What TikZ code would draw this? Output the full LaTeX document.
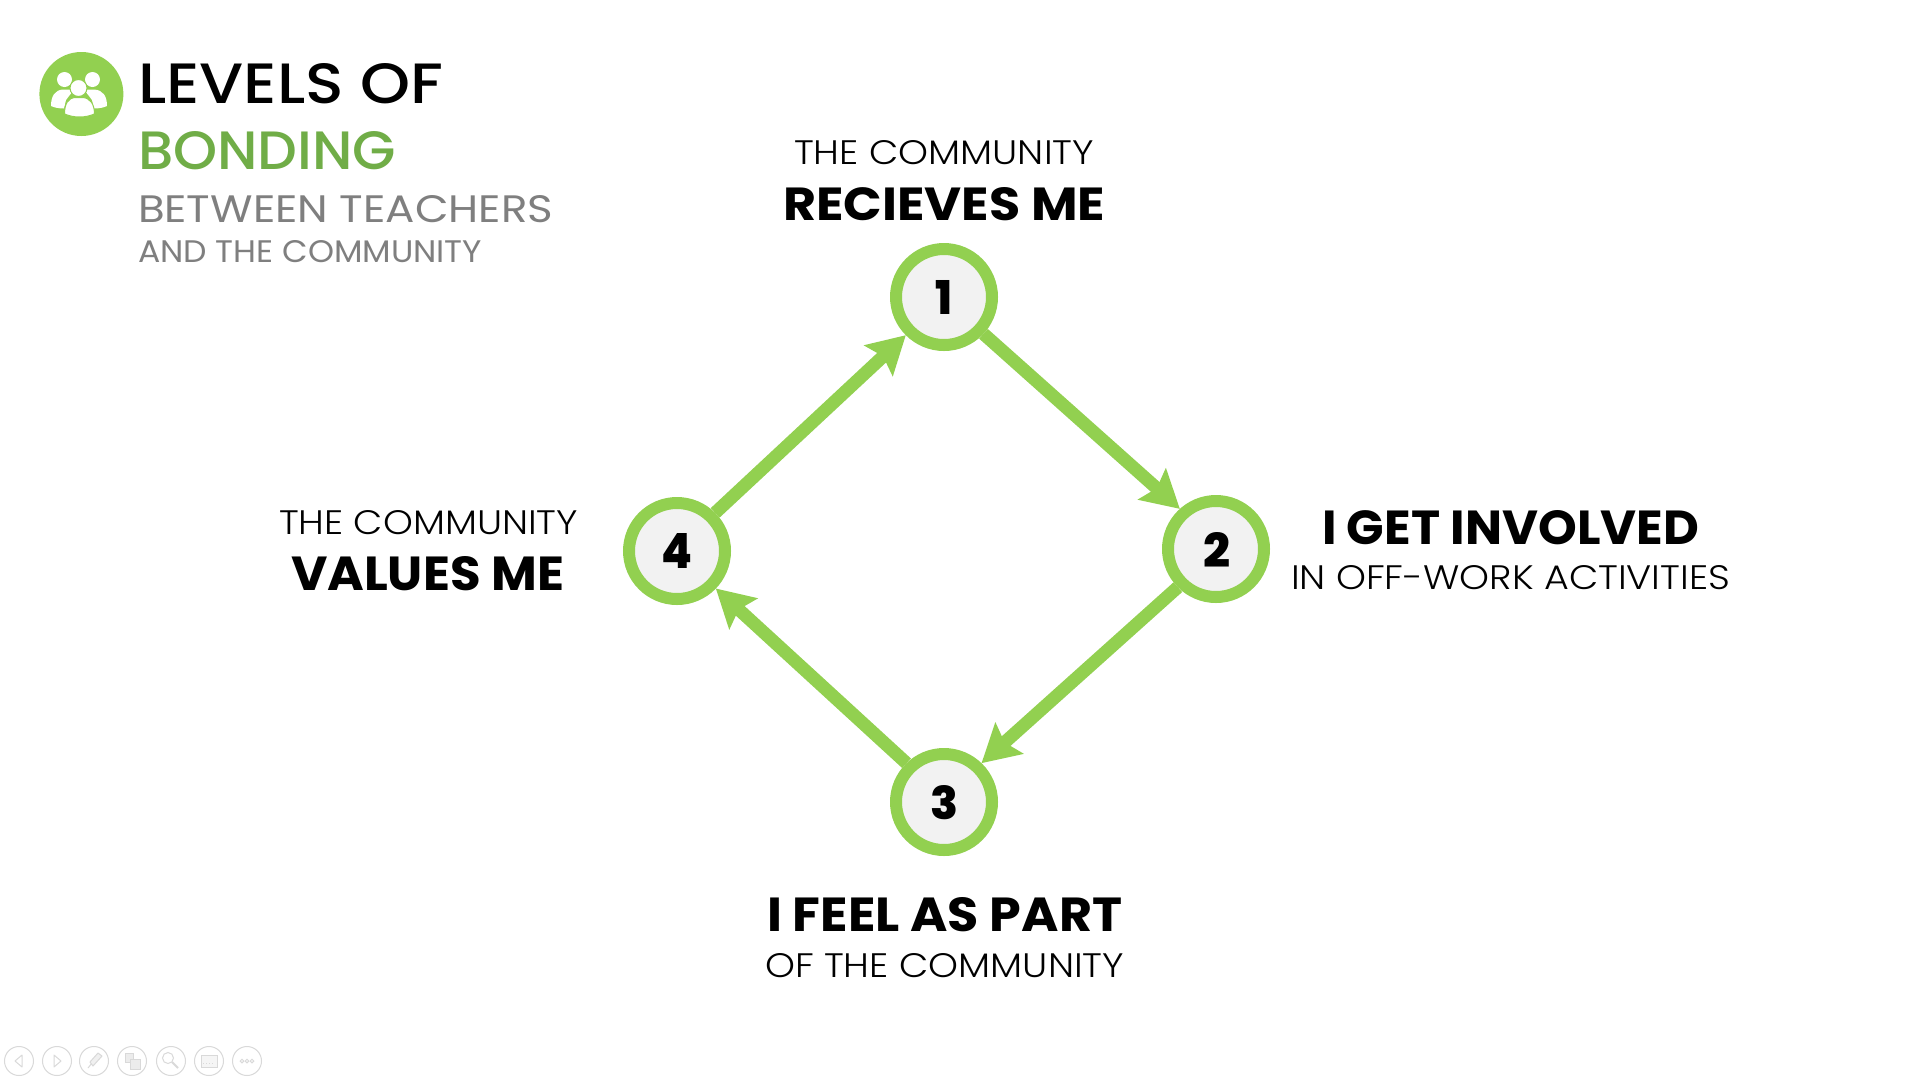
\documentclass[tikz,border=0pt]{standalone}
\usepackage{fontspec}
\usepackage{graphicx}
\setmainfont{Poppins}
\newfontfamily\lightf{Poppins Light}
\newfontfamily\regf{Poppins}
\newfontfamily\medf{Poppins Medium}
\newfontfamily\boldf{Poppins}[BoldFont=Poppins Bold]
\newfontfamily\blackf{Poppins ExtraBold}
\usetikzlibrary{arrows.meta}
\definecolor{ringgreen}{HTML}{92D050}
\definecolor{titlegreen}{HTML}{70AD47}
\definecolor{discfill}{HTML}{F2F2F2}
\definecolor{subgrey}{HTML}{7F7F7F}
\definecolor{navgrey}{HTML}{D9D9D9}
\newcommand{\fit}[3]{\resizebox{#1pt}{#2pt}{#3}}
\tikzset{
  x=1pt,y=-1pt,
  disc/.style={circle,draw=ringgreen,fill=discfill,line width=12pt,minimum size=96pt,inner sep=0pt},
  link/.style={draw=ringgreen,line width=13pt,-{Stealth[length=37pt,width=41pt,inset=6pt]}},
  lbl/.style={inner sep=0pt,outer sep=0pt,anchor=base west},
  navbtn/.style={circle,draw=navgrey,line width=1pt,minimum size=29pt,inner sep=0pt},
  navline/.style={draw=navgrey,line width=1pt},
}
\begin{document}
\begin{tikzpicture}
\useasboundingbox (0,0) rectangle (1920,1080);
\fill[white] (0,0) rectangle (1920,1080);
% title icon
\fill[ringgreen] (81.4,94) ellipse [x radius=42,y radius=42];
\fill[white] (64.5,79.5) circle (7.5);
\fill[white] (92.5,79.5) circle (7.5);
\fill[white] (51,106) .. controls (51,96) and (55,90) .. (63,89.5) -- (74,89.5) -- (66,100) -- (64,108.5) .. controls (59,108.5) and (54,107.5) .. (51,106) -- cycle;
\fill[white] (107,106) .. controls (107,96) and (103,90) .. (94,89.5) -- (84,89.5) -- (92,100) -- (94,108.5) .. controls (99,108.5) and (104,107.5) .. (107,106) -- cycle;
\draw[ringgreen,fill=white,line width=1pt] (78.5,88) circle (8.5);
\draw[ringgreen,fill=white,line width=1pt] (64.5,114) .. controls (64.5,104) and (68,97.5) .. (76,97.5) -- (82,97.5) .. controls (90,97.5) and (94.5,104) .. (94.5,114) .. controls (85,118) and (74,118) .. (64.5,114) -- cycle;
% title text
\node[lbl] (t1) at (138,103) {\fit{305}{40}{\medf LEVELS OF}};
\node[lbl,text=titlegreen] (t2) at (138,169) {\fit{258}{38}{\medf BONDING}};
\node[lbl,text=subgrey] (t3) at (138,222) {\fit{415}{27}{\regf BETWEEN TEACHERS}};
\node[lbl,text=subgrey] (t4) at (138,262) {\fit{344}{22}{\regf AND THE COMMUNITY}};
% discs
\node[disc] (c1) at (944,297) {};
\node[disc] (c2) at (1216,549) {};
\node[disc] (c3) at (944,802) {};
\node[disc] (c4) at (677,551) {};
\node[lbl] (n1) at (935,314) {\fit{17}{34}{\blackf 1}};
\node[lbl] (n2) at (1203,567) {\fit{27}{35}{\blackf 2}};
\node[lbl] (n3) at (930,819) {\fit{28}{34}{\blackf 3}};
\node[lbl] (n4) at (661,568) {\fit{31}{35}{\blackf 4}};
% connectors
\draw[link] (c1.-43) -- (c2.132);
\draw[link] (c2.225) -- (c3.46);
\draw[link] (c3.134) -- (c4.-44);
\draw[link] (c4.45) -- (c1.225);
% labels
\node[lbl] (l1a) at (794,164) {\fit{300}{24}{\lightf THE COMMUNITY}};
\node[lbl] (l1b) at (783,220) {\fit{322}{33}{\boldf\bfseries RECIEVES ME}};
\node[lbl] (l2a) at (1322,544) {\fit{377}{34}{\boldf\bfseries I GET INVOLVED}};
\node[lbl] (l2b) at (1291,589) {\fit{439}{24}{\lightf IN OFF-WORK ACTIVITIES}};
\node[lbl] (l3a) at (767,931) {\fit{355}{34}{\boldf\bfseries I FEEL AS PART}};
\node[lbl] (l3b) at (765,977) {\fit{359}{24}{\lightf OF THE COMMUNITY}};
\node[lbl] (l4a) at (279,534) {\fit{299}{24}{\lightf THE COMMUNITY}};
\node[lbl] (l4b) at (291,590) {\fit{273}{34}{\boldf\bfseries VALUES ME}};
% slide-show controls
\node[navbtn] (b1) at (19,1061) {};
\node[navbtn] (b2) at (57,1061) {};
\node[navbtn] (b3) at (94,1061) {};
\node[navbtn] (b4) at (132,1061) {};
\node[navbtn] (b5) at (171,1061) {};
\node[navbtn] (b6) at (209,1061) {};
\node[navbtn] (b7) at (247,1061) {};
\draw[navline,line join=round] (22,1055) -- (15,1061) -- (22,1067) -- cycle;
\draw[navline,line join=round] (54,1055) -- (61,1061) -- (54,1067) -- cycle;
\draw[navline] (88,1068) -- (92,1063);
\draw[navline,fill=navgrey!40,line join=round] (90,1062) -- (98,1053) -- (102,1056) -- (93,1066) -- cycle;
\draw[navline,fill=navgrey!50] (125,1053) rectangle (133,1062);
\draw[navline,fill=navgrey!50] (130,1059) rectangle (140,1069);
\draw[navline] (168,1058) circle (5.5);
\draw[navline,line width=2pt] (172,1062) -- (178,1068);
\draw[navline,fill=navgrey!25] (201,1055) rectangle (217,1067);
\draw[navline,dotted] (203,1063) -- (215,1063);
\draw[navline] (242,1061) circle (1.8);
\draw[navline] (247,1061) circle (1.8);
\draw[navline] (252,1061) circle (1.8);
\end{tikzpicture}
\end{document}
